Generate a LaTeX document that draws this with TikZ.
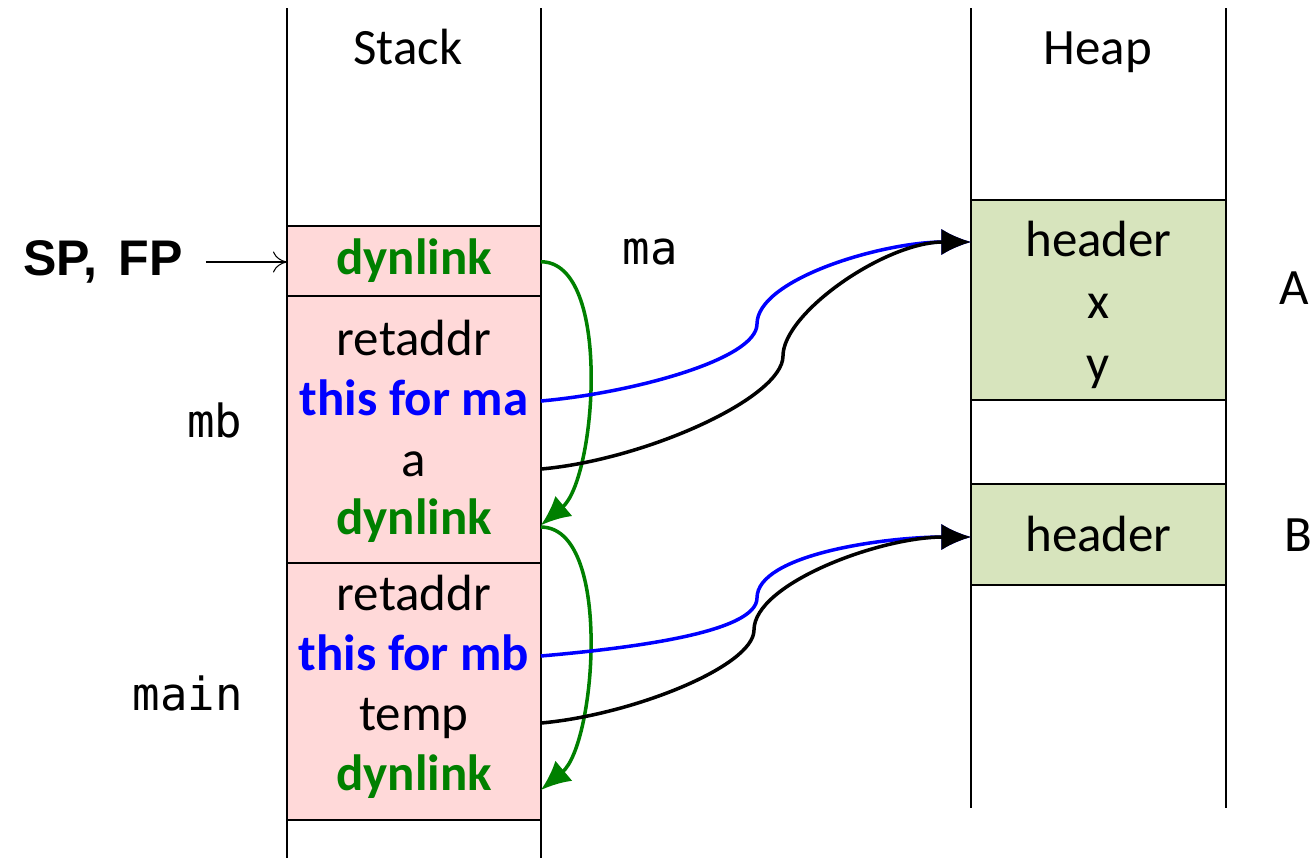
\documentclass[tikz,border=0pt]{standalone}
\usepackage{fontspec}
\setmainfont{Carlito}
\newfontfamily\codefont{DejaVu Sans Mono}
\newfontfamily\arialfont{Liberation Sans}
\usetikzlibrary{arrows.meta}
\definecolor{stackpink}{RGB}{255,217,217}
\definecolor{heapgreen}{RGB}{215,228,189}
\definecolor{linkgreen}{RGB}{0,128,0}
\newcommand{\cellsize}{\fontsize{29}{32}\selectfont}

\tikzset{
	cell/.style={inner sep=0pt, minimum width=144pt, text height=20pt, text depth=4pt, font=\cellsize},
	heapcell/.style={cell, minimum width=144.6pt},
	lbl/.style={inner sep=0pt, text height=20pt, text depth=4pt, font=\cellsize},
	code/.style={inner sep=0pt, font=\codefont\fontsize{26}{30}\selectfont},
	link/.style={bold, text=linkgreen},
	bold/.style={font=\cellsize\bfseries},
	ptr/.style={line width=2pt, -{Latex[length=17pt,width=15pt]}},
	rise/.style={out=5, in=-90, out looseness=1, in looseness=0.4},
	land/.style={out=90, in=180, out looseness=0.5, in looseness=1},
}

\begin{document}
\begin{tikzpicture}[x=0.02cm, y=-0.02cm]
		\useasboundingbox (0,0) rectangle (1316,859);
		
		\draw[line width=1.1pt, fill=stackpink] (287,226) rectangle (541,296);
		\draw[line width=1.1pt, fill=stackpink] (287,296) rectangle (541,563);
		\draw[line width=1.1pt, fill=stackpink] (287,563) rectangle (541,820);
		\draw[line width=1.1pt, fill=heapgreen] (971,200) rectangle (1226,400);
		\draw[line width=1.1pt, fill=heapgreen] (971,484) rectangle (1226,585);
		
		\draw[line width=0.8pt] (287,8) to (287,858);
		\draw[line width=0.8pt] (541,8) to (541,858);
		\draw[line width=0.8pt] (971,8) to (971,808);
		\draw[line width=0.8pt] (1226,8) to (1226,808);
		
		\node[lbl] (stack) at (408,50) {Stack};
		\node[lbl] (heap) at (1098,50) {Heap};
		
		\node[cell, link] (dyn1) at (414,260) {dynlink};
		\node[cell] (ret1) at (414,341) {retaddr};
		\node[cell, bold, text=blue] (thisma) at (414,401) {this for ma};
		\node[cell] (a) at (414,462) {a};
		\node[cell, link] (dyn2) at (414,520) {dynlink};
		\node[cell] (ret2) at (414,596) {retaddr};
		\node[cell, bold, text=blue] (thismb) at (414,656) {this for mb};
		\node[cell] (temp) at (414,716) {temp};
		\node[cell, link] (dyn3) at (414,776) {dynlink};
		
		\node[heapcell] (hdrA) at (1098.5,242) {header};
		\node[heapcell] (x) at (1098.5,304) {x};
		\node[heapcell] (y) at (1098.5,366) {y};
		\node[heapcell] (hdrB) at (1098.5,537) {header};
		
		\node[lbl] (A) at (1294,290) {A};
		\node[lbl] (B) at (1298,537) {B};
		\node[code] (ma) at (650,252) {ma};
		\node[code] (mb) at (215,420) {mb};
		\node[code] (main) at (188,693) {main};
		
		\node[inner sep=0pt, font=\arialfont\bfseries\fontsize{28.5}{32}\selectfont] (spfp) at (103,262) {SP,\hspace{0.14em} FP};
		\coordinate (sp) at (287,262);
		\draw[-{To[length=8pt,width=12pt]}, line width=0.6pt] ([xshift=13pt]spfp.east) to (sp);
		
		\draw[ptr, linkgreen] ([yshift=-1pt]dyn1.east) to[out=0, in=40, looseness=0.7] ([yshift=-3pt]dyn2.east);
		\draw[ptr, linkgreen] ([yshift=-4pt]dyn2.east) to[out=0, in=40, looseness=0.7] ([yshift=-8pt]dyn3.east);
		
		\coordinate (bend1) at (757,324);
		\coordinate (bend2) at (783,356);
		\coordinate (bend3) at (757,598);
		\coordinate (bend4) at (754,630);
		
		\draw[ptr, blue] (thisma.east) to[rise] (bend1) to[land] (hdrA.west);
		\draw[ptr] ([yshift=-4pt]a.east) to[rise] (bend2) to[land] (hdrA.west);
		\draw[ptr, blue] (thismb.east) to[rise] (bend3) to[land] (hdrB.west);
		\draw[ptr] ([yshift=-4pt]temp.east) to[rise] (bend4) to[land] (hdrB.west);
	\end{tikzpicture}
\end{document}
